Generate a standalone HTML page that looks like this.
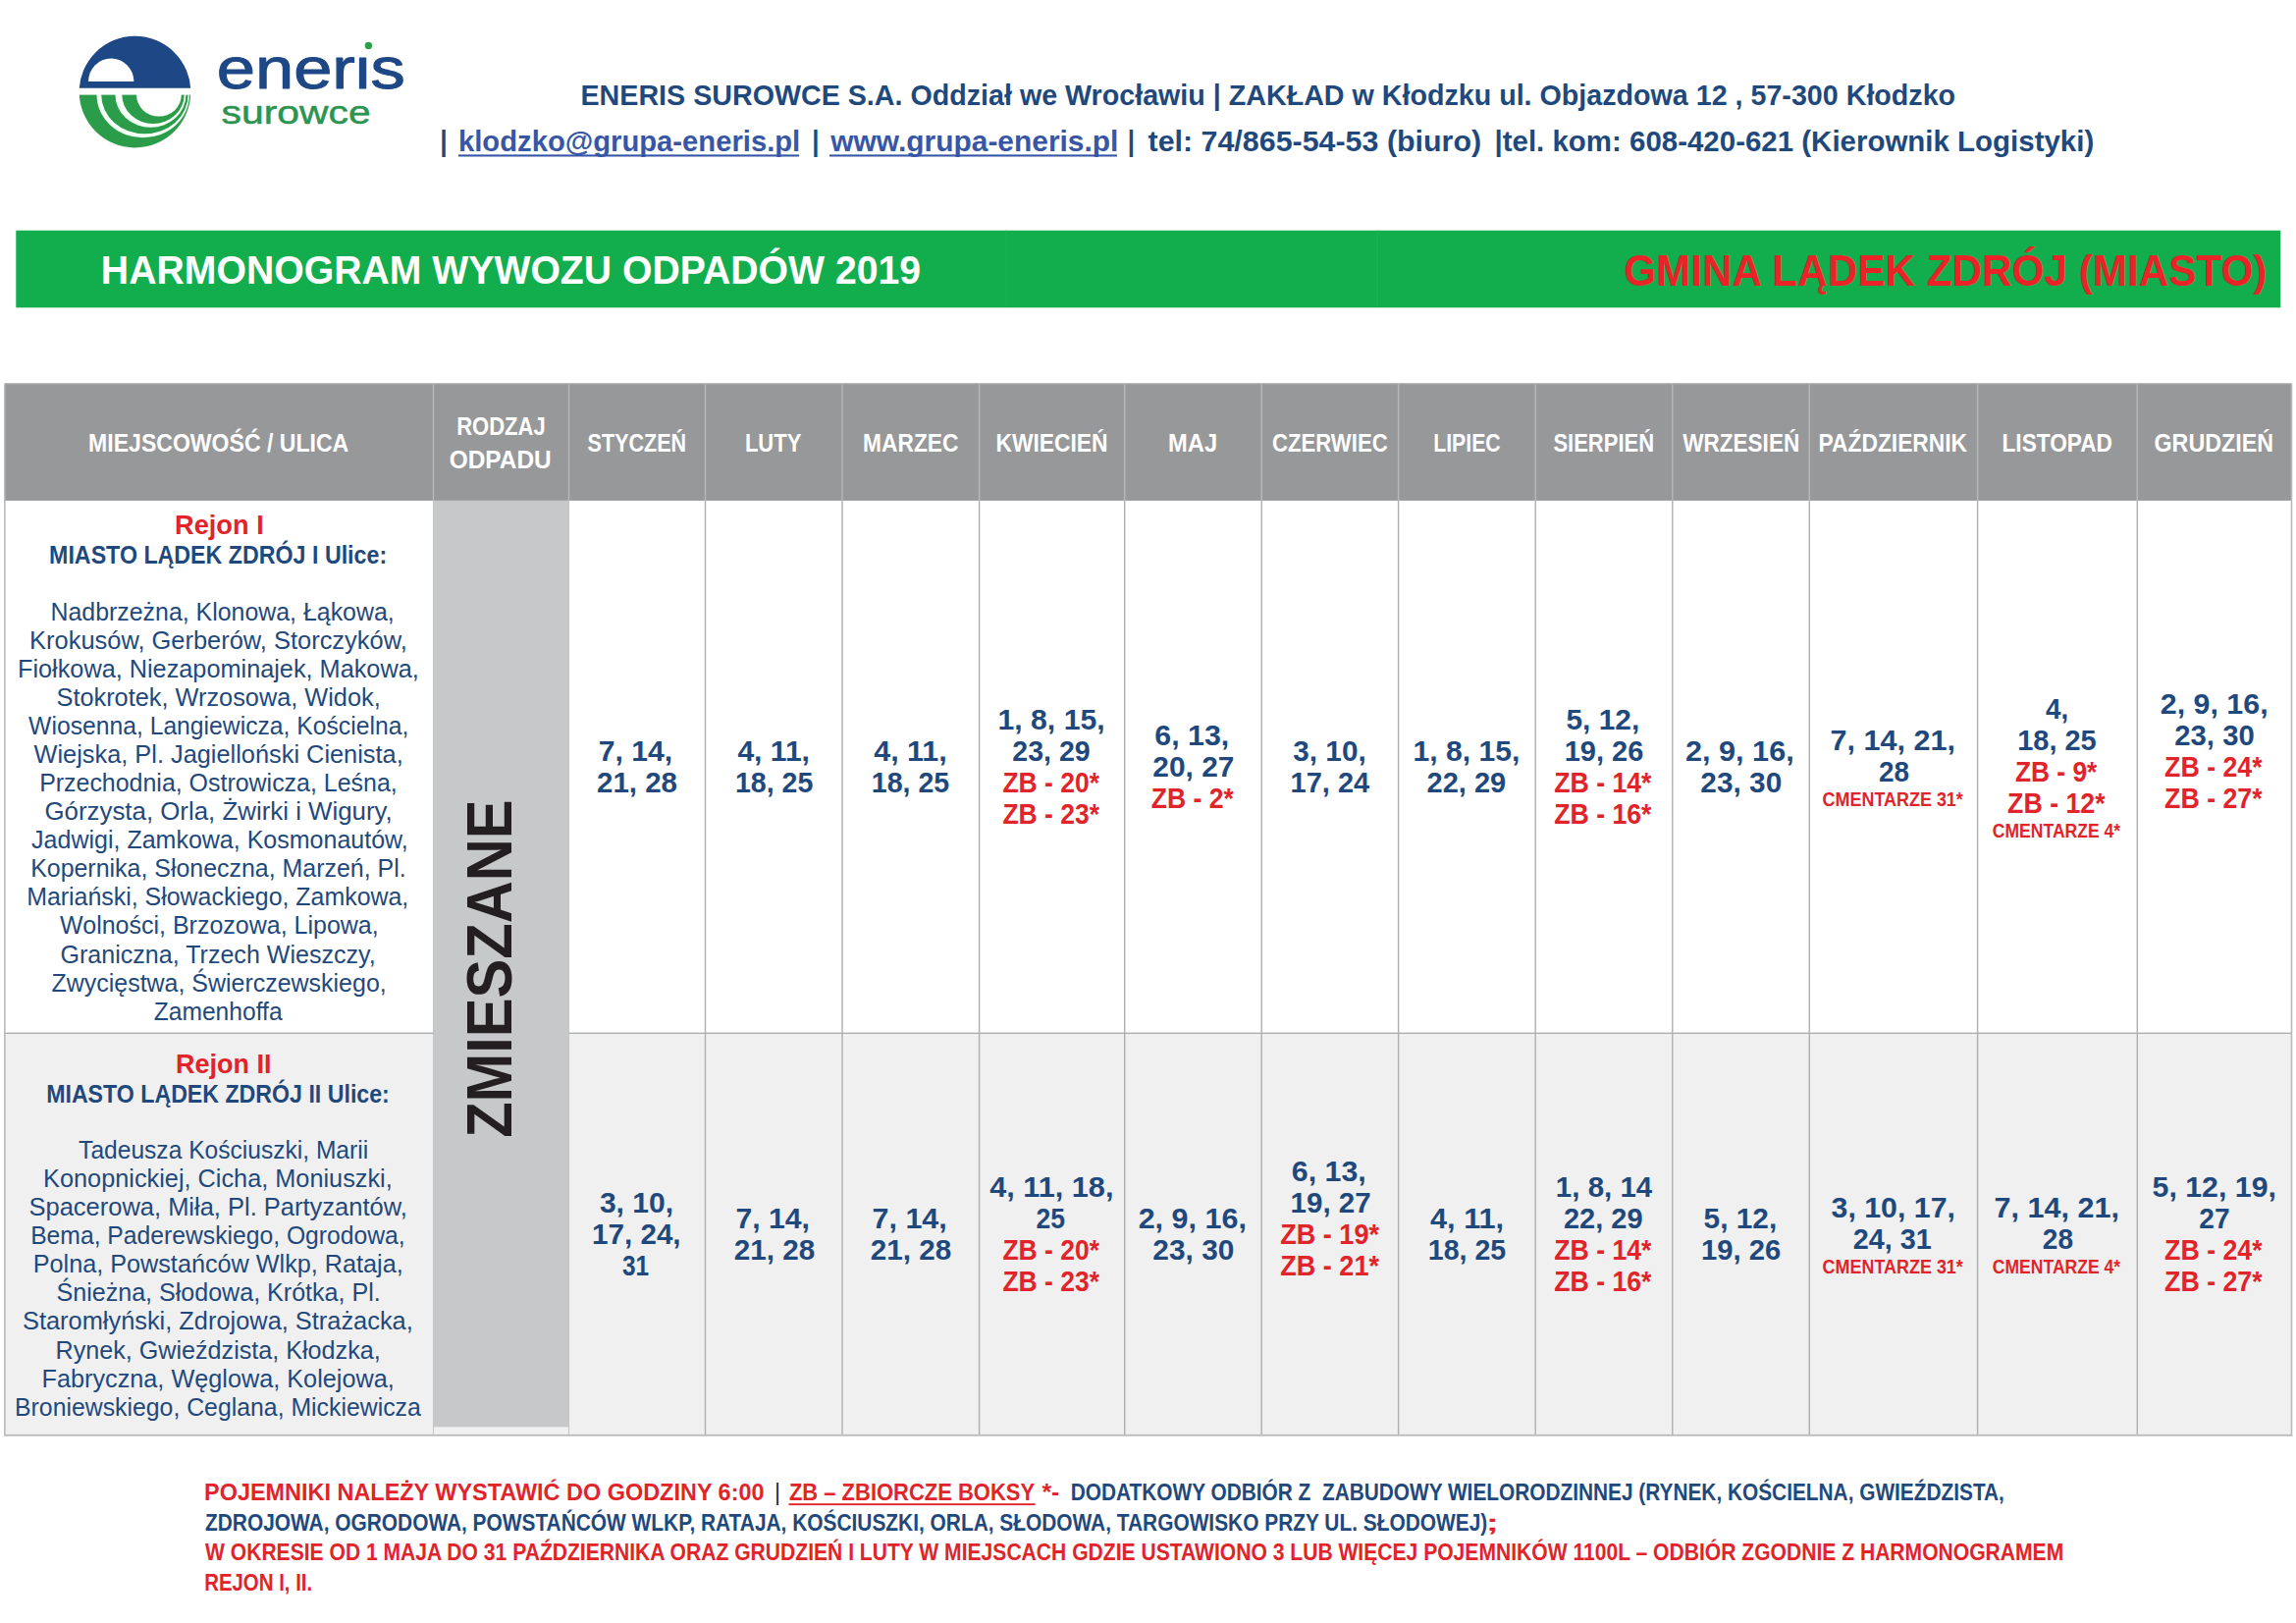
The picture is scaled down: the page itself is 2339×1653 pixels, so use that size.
<!DOCTYPE html>
<html lang="pl">
<head>
<meta charset="utf-8">
<title>Harmonogram wywozu odpadów 2019 – Gmina Lądek Zdrój (miasto)</title>
<style>
html,body{margin:0;padding:0;background:#fff;}
body{width:2339px;height:1653px;overflow:hidden;}
svg{display:block;font-family:"Liberation Sans",sans-serif;}
svg text{white-space:pre;}
</style>
</head>
<body>
<svg width="2339" height="1653" viewBox="0 0 2339 1653">
<rect x="16.3" y="234.7" width="2307" height="78.6" fill="#12ae4e"/>
<rect x="1024.6" y="234.7" width="1" height="78.4" fill="#1fb257"/>
<rect x="1402.8" y="234.7" width="1" height="78.4" fill="#1fb257"/>
<rect x="4.8" y="390.7" width="2329.7" height="119.2" fill="#97989a"/>
<rect x="4.8" y="1052.3" width="2329.7" height="409.5" fill="#f0f0f0"/>
<rect x="441.5" y="509.9" width="138" height="943.4" fill="#c7c8ca"/>
<rect x="440.8" y="391.2" width="1.4" height="118.7" fill="#b7b8ba"/>
<rect x="578.8" y="391.2" width="1.4" height="118.7" fill="#b7b8ba"/>
<rect x="717.8" y="391.2" width="1.4" height="118.7" fill="#b7b8ba"/>
<rect x="857.3" y="391.2" width="1.4" height="118.7" fill="#b7b8ba"/>
<rect x="996.9" y="391.2" width="1.4" height="118.7" fill="#b7b8ba"/>
<rect x="1145" y="391.2" width="1.4" height="118.7" fill="#b7b8ba"/>
<rect x="1284.5" y="391.2" width="1.4" height="118.7" fill="#b7b8ba"/>
<rect x="1423.9" y="391.2" width="1.4" height="118.7" fill="#b7b8ba"/>
<rect x="1563.5" y="391.2" width="1.4" height="118.7" fill="#b7b8ba"/>
<rect x="1703.1" y="391.2" width="1.4" height="118.7" fill="#b7b8ba"/>
<rect x="1842.6" y="391.2" width="1.4" height="118.7" fill="#b7b8ba"/>
<rect x="2013.9" y="391.2" width="1.4" height="118.7" fill="#b7b8ba"/>
<rect x="2176.6" y="391.2" width="1.4" height="118.7" fill="#b7b8ba"/>
<rect x="4.8" y="390.1" width="2329.7" height="1.2" fill="#b3b4b6"/>
<rect x="717.8" y="509.9" width="1.4" height="951.9" fill="#adaeb0"/>
<rect x="857.3" y="509.9" width="1.4" height="951.9" fill="#adaeb0"/>
<rect x="996.9" y="509.9" width="1.4" height="951.9" fill="#adaeb0"/>
<rect x="1145" y="509.9" width="1.4" height="951.9" fill="#adaeb0"/>
<rect x="1284.5" y="509.9" width="1.4" height="951.9" fill="#adaeb0"/>
<rect x="1423.9" y="509.9" width="1.4" height="951.9" fill="#adaeb0"/>
<rect x="1563.5" y="509.9" width="1.4" height="951.9" fill="#adaeb0"/>
<rect x="1703.1" y="509.9" width="1.4" height="951.9" fill="#adaeb0"/>
<rect x="1842.6" y="509.9" width="1.4" height="951.9" fill="#adaeb0"/>
<rect x="2013.9" y="509.9" width="1.4" height="951.9" fill="#adaeb0"/>
<rect x="2176.6" y="509.9" width="1.4" height="951.9" fill="#adaeb0"/>
<rect x="579" y="509.9" width="1" height="951.9" fill="#c3c4c6"/>
<rect x="441" y="509.9" width="1" height="951.9" fill="#c3c4c6"/>
<rect x="4.8" y="1051.6" width="436.7" height="1.4" fill="#adaeb0"/>
<rect x="579.5" y="1051.6" width="1755" height="1.4" fill="#adaeb0"/>
<rect x="4" y="390.7" width="1.6" height="1071.1" fill="#b9babb"/>
<rect x="2333.7" y="390.7" width="1.6" height="1072" fill="#b9babb"/>
<rect x="4" y="1460.9" width="2331.3" height="1.8" fill="#b9babb"/>
<defs><clipPath id="lgTop"><rect x="70" y="30" width="140" height="59.7"/></clipPath><clipPath id="lgCirc"><circle cx="137.5" cy="93.6" r="56.8"/></clipPath></defs>
<g clip-path="url(#lgCirc)"><rect x="70" y="30" width="140" height="130" fill="#2a9c4a"/>
<ellipse cx="161.9" cy="96.6" rx="22.9" ry="22" fill="#fff"/>
<path fill="#f4fff6" d="M117.4 90 L117.4 96.6 A36.05 33.2 0 0 0 189.5 96.6 L189.5 90 L187.7 90 L187.7 96.6 A31.7 29.3 0 0 1 124.3 96.6 L124.3 90 Z"/>
<path fill="#f4fff6" d="M98.5 90 L98.5 96.6 A47.2 43.6 0 0 0 192.9 96.6 L192.9 90 L191.6 90 L191.6 96.6 A44.2 39.7 0 0 1 103.2 96.6 L103.2 90 Z"/>
</g>
<rect x="70" y="30" width="140" height="66.6" fill="#fff"/>
<g clip-path="url(#lgTop)"><circle cx="137.5" cy="93.6" r="56.8" fill="#1e4785"/>
<path d="M90 83 A23.2 23.5 0 0 1 136.4 83 Z" fill="#fff"/></g>
<g>
<g id="company-info">
<text x="591.51" y="106.7" textLength="1400.63" lengthAdjust="spacingAndGlyphs" font-size="28.9" fill="#1f497d" font-weight="700">ENERIS SUROWCE S.A. Oddział we Wrocławiu | ZAKŁAD w Kłodzku ul. Objazdowa 12 , 57-300 Kłodzko</text>
<text x="448.35" y="153.8" textLength="7.48" lengthAdjust="spacingAndGlyphs" font-size="28.9" fill="#1f497d" font-weight="700">|</text>
<text x="466.98" y="153.8" textLength="348.27" lengthAdjust="spacingAndGlyphs" font-size="28.9" fill="#3757a6" font-weight="700">klodzko@grupa-eneris.pl</text>
<rect x="467" y="157.4" width="347" height="2.1" fill="#3757a6"/>
<text x="827.2" y="153.8" textLength="7.27" lengthAdjust="spacingAndGlyphs" font-size="28.9" fill="#1f497d" font-weight="700">|</text>
<text x="846.34" y="153.8" textLength="293.06" lengthAdjust="spacingAndGlyphs" font-size="28.9" fill="#3757a6" font-weight="700">www.grupa-eneris.pl</text>
<rect x="845" y="157.4" width="293" height="2.1" fill="#3757a6"/>
<text x="1148.8" y="153.8" textLength="7.27" lengthAdjust="spacingAndGlyphs" font-size="28.9" fill="#1f497d" font-weight="700">|</text>
<text x="1169.5" y="153.8" textLength="339.65" lengthAdjust="spacingAndGlyphs" font-size="28.9" fill="#1f497d" font-weight="700">tel: 74/865-54-53 (biuro)</text>
<text x="1522.46" y="153.8" textLength="610.77" lengthAdjust="spacingAndGlyphs" font-size="28.9" fill="#1f497d" font-weight="700">|tel. kom: 608-420-621 (Kierownik Logistyki)</text>
</g>
<g id="banner">
<text x="102.87" y="289" textLength="835.28" lengthAdjust="spacingAndGlyphs" font-size="40.6" fill="#ffffff" font-weight="700">HARMONOGRAM WYWOZU ODPADÓW 2019</text>
<text x="1654.24" y="290.6" textLength="655.21" lengthAdjust="spacingAndGlyphs" font-size="43.9" fill="#ea2328" font-weight="700">GMINA LĄDEK ZDRÓJ (MIASTO)</text>
</g>
<g id="table-head">
<text x="90.09" y="460" textLength="265.16" lengthAdjust="spacingAndGlyphs" font-size="25.3" fill="#ffffff" font-weight="700">MIEJSCOWOŚĆ / ULICA</text>
<text x="465.13" y="442.6" textLength="90.6" lengthAdjust="spacingAndGlyphs" font-size="25.3" fill="#ffffff" font-weight="700">RODZAJ</text>
<text x="457.63" y="476.7" textLength="104.09" lengthAdjust="spacingAndGlyphs" font-size="25.3" fill="#ffffff" font-weight="700">ODPADU</text>
<text x="598.6" y="460" textLength="100.58" lengthAdjust="spacingAndGlyphs" font-size="25.3" fill="#ffffff" font-weight="700">STYCZEŃ</text>
<text x="758.93" y="460" textLength="57.46" lengthAdjust="spacingAndGlyphs" font-size="25.3" fill="#ffffff" font-weight="700">LUTY</text>
<text x="879.1" y="460" textLength="97.34" lengthAdjust="spacingAndGlyphs" font-size="25.3" fill="#ffffff" font-weight="700">MARZEC</text>
<text x="1014.4" y="460" textLength="114.15" lengthAdjust="spacingAndGlyphs" font-size="25.3" fill="#ffffff" font-weight="700">KWIECIEŃ</text>
<text x="1189.96" y="460" textLength="50.14" lengthAdjust="spacingAndGlyphs" font-size="25.3" fill="#ffffff" font-weight="700">MAJ</text>
<text x="1296.03" y="460" textLength="117.61" lengthAdjust="spacingAndGlyphs" font-size="25.3" fill="#ffffff" font-weight="700">CZERWIEC</text>
<text x="1460.26" y="460" textLength="68.36" lengthAdjust="spacingAndGlyphs" font-size="25.3" fill="#ffffff" font-weight="700">LIPIEC</text>
<text x="1582.4" y="460" textLength="102.7" lengthAdjust="spacingAndGlyphs" font-size="25.3" fill="#ffffff" font-weight="700">SIERPIEŃ</text>
<text x="1714.2" y="460" textLength="119.03" lengthAdjust="spacingAndGlyphs" font-size="25.3" fill="#ffffff" font-weight="700">WRZESIEŃ</text>
<text x="1852.6" y="460" textLength="151.44" lengthAdjust="spacingAndGlyphs" font-size="25.3" fill="#ffffff" font-weight="700">PAŹDZIERNIK</text>
<text x="2039.5" y="460" textLength="112.44" lengthAdjust="spacingAndGlyphs" font-size="25.3" fill="#ffffff" font-weight="700">LISTOPAD</text>
<text x="2194.48" y="460" textLength="121.69" lengthAdjust="spacingAndGlyphs" font-size="25.3" fill="#ffffff" font-weight="700">GRUDZIEŃ</text>
</g>
<g id="streets">
<text x="178.03" y="543.7" textLength="90.72" lengthAdjust="spacingAndGlyphs" font-size="28.1" fill="#e0242a" font-weight="700">Rejon I</text>
<text x="50.07" y="573.5" textLength="344.07" lengthAdjust="spacingAndGlyphs" font-size="24.9" fill="#1f497d" font-weight="700">MIASTO LĄDEK ZDRÓJ I Ulice:</text>
<text x="51.53" y="631.7" textLength="350.16" lengthAdjust="spacingAndGlyphs" font-size="25.3" fill="#1f497d">Nadbrzeżna, Klonowa, Łąkowa,</text>
<text x="30.09" y="660.77" textLength="384.65" lengthAdjust="spacingAndGlyphs" font-size="25.3" fill="#1f497d">Krokusów, Gerberów, Storczyków,</text>
<text x="18" y="689.84" textLength="408.72" lengthAdjust="spacingAndGlyphs" font-size="25.3" fill="#1f497d">Fiołkowa, Niezapominajek, Makowa,</text>
<text x="57.5" y="718.91" textLength="330.23" lengthAdjust="spacingAndGlyphs" font-size="25.3" fill="#1f497d">Stokrotek, Wrzosowa, Widok,</text>
<text x="29.1" y="747.98" textLength="387.18" lengthAdjust="spacingAndGlyphs" font-size="25.3" fill="#1f497d">Wiosenna, Langiewicza, Kościelna,</text>
<text x="34.5" y="777.05" textLength="376.23" lengthAdjust="spacingAndGlyphs" font-size="25.3" fill="#1f497d">Wiejska, Pl. Jagielloński Cienista,</text>
<text x="40.13" y="806.12" textLength="364.57" lengthAdjust="spacingAndGlyphs" font-size="25.3" fill="#1f497d">Przechodnia, Ostrowicza, Leśna,</text>
<text x="45.48" y="835.19" textLength="354.29" lengthAdjust="spacingAndGlyphs" font-size="25.3" fill="#1f497d">Górzysta, Orla, Żwirki i Wigury,</text>
<text x="32.1" y="864.26" textLength="383.6" lengthAdjust="spacingAndGlyphs" font-size="25.3" fill="#1f497d">Jadwigi, Zamkowa, Kosmonautów,</text>
<text x="31.13" y="893.33" textLength="382.57" lengthAdjust="spacingAndGlyphs" font-size="25.3" fill="#1f497d">Kopernika, Słoneczna, Marzeń, Pl.</text>
<text x="27.13" y="922.4" textLength="389.17" lengthAdjust="spacingAndGlyphs" font-size="25.3" fill="#1f497d">Mariański, Słowackiego, Zamkowa,</text>
<text x="61.1" y="951.47" textLength="324.6" lengthAdjust="spacingAndGlyphs" font-size="25.3" fill="#1f497d">Wolności, Brzozowa, Lipowa,</text>
<text x="61.51" y="980.54" textLength="321.2" lengthAdjust="spacingAndGlyphs" font-size="25.3" fill="#1f497d">Graniczna, Trzech Wieszczy,</text>
<text x="52.5" y="1009.61" textLength="341.2" lengthAdjust="spacingAndGlyphs" font-size="25.3" fill="#1f497d">Zwycięstwa, Świerczewskiego,</text>
<text x="156.7" y="1038.68" textLength="130.89" lengthAdjust="spacingAndGlyphs" font-size="25.3" fill="#1f497d">Zamenhoffa</text>
<text x="178.94" y="1092.7" textLength="97.6" lengthAdjust="spacingAndGlyphs" font-size="28.1" fill="#e0242a" font-weight="700">Rejon II</text>
<text x="47.17" y="1122.5" textLength="349.66" lengthAdjust="spacingAndGlyphs" font-size="24.9" fill="#1f497d" font-weight="700">MIASTO LĄDEK ZDRÓJ II Ulice:</text>
<text x="80.1" y="1180.1" textLength="295.07" lengthAdjust="spacingAndGlyphs" font-size="25.3" fill="#1f497d">Tadeusza Kościuszki, Marii</text>
<text x="44.1" y="1209.16" textLength="355.63" lengthAdjust="spacingAndGlyphs" font-size="25.3" fill="#1f497d">Konopnickiej, Cicha, Moniuszki,</text>
<text x="29.49" y="1238.22" textLength="385.25" lengthAdjust="spacingAndGlyphs" font-size="25.3" fill="#1f497d">Spacerowa, Miła, Pl. Partyzantów,</text>
<text x="31.15" y="1267.28" textLength="381.53" lengthAdjust="spacingAndGlyphs" font-size="25.3" fill="#1f497d">Bema, Paderewskiego, Ogrodowa,</text>
<text x="33.71" y="1296.34" textLength="377.02" lengthAdjust="spacingAndGlyphs" font-size="25.3" fill="#1f497d">Polna, Powstańców Wlkp, Rataja,</text>
<text x="57.51" y="1325.4" textLength="330.2" lengthAdjust="spacingAndGlyphs" font-size="25.3" fill="#1f497d">Śnieżna, Słodowa, Krótka, Pl.</text>
<text x="23" y="1354.46" textLength="397.74" lengthAdjust="spacingAndGlyphs" font-size="25.3" fill="#1f497d">Staromłyński, Zdrojowa, Strażacka,</text>
<text x="56.51" y="1383.52" textLength="331.2" lengthAdjust="spacingAndGlyphs" font-size="25.3" fill="#1f497d">Rynek, Gwieździsta, Kłodzka,</text>
<text x="42.5" y="1412.58" textLength="359.22" lengthAdjust="spacingAndGlyphs" font-size="25.3" fill="#1f497d">Fabryczna, Węglowa, Kolejowa,</text>
<text x="15.04" y="1441.64" textLength="413.75" lengthAdjust="spacingAndGlyphs" font-size="25.3" fill="#1f497d">Broniewskiego, Ceglana, Mickiewicza</text>
</g>
<g id="waste-type">
<text transform="translate(521 1157.9) rotate(-90)" x="-0.91" y="0" textLength="344.3" lengthAdjust="spacingAndGlyphs" font-size="65.6" fill="#231f20" font-weight="700">ZMIESZANE</text>
</g>
<g id="dates">
<text x="609.76" y="774.9" textLength="75.34" lengthAdjust="spacingAndGlyphs" font-size="29" fill="#1f497d" font-weight="700">7, 14,</text>
<text x="608.08" y="806.9" textLength="81.95" lengthAdjust="spacingAndGlyphs" font-size="29" fill="#1f497d" font-weight="700">21, 28</text>
<text x="751.4" y="774.9" textLength="73.6" lengthAdjust="spacingAndGlyphs" font-size="29" fill="#1f497d" font-weight="700">4, 11,</text>
<text x="748.92" y="806.9" textLength="79.41" lengthAdjust="spacingAndGlyphs" font-size="29" fill="#1f497d" font-weight="700">18, 25</text>
<text x="890.3" y="774.9" textLength="74.41" lengthAdjust="spacingAndGlyphs" font-size="29" fill="#1f497d" font-weight="700">4, 11,</text>
<text x="887.82" y="806.9" textLength="79.41" lengthAdjust="spacingAndGlyphs" font-size="29" fill="#1f497d" font-weight="700">18, 25</text>
<text x="1016.56" y="742.9" textLength="109.04" lengthAdjust="spacingAndGlyphs" font-size="29" fill="#1f497d" font-weight="700">1, 8, 15,</text>
<text x="1031.32" y="774.9" textLength="79.41" lengthAdjust="spacingAndGlyphs" font-size="29" fill="#1f497d" font-weight="700">23, 29</text>
<text x="1021.4" y="806.9" textLength="98.65" lengthAdjust="spacingAndGlyphs" font-size="29" fill="#e0242a" font-weight="700">ZB - 20*</text>
<text x="1021.4" y="838.9" textLength="98.65" lengthAdjust="spacingAndGlyphs" font-size="29" fill="#e0242a" font-weight="700">ZB - 23*</text>
<text x="1176.35" y="758.9" textLength="75.95" lengthAdjust="spacingAndGlyphs" font-size="29" fill="#1f497d" font-weight="700">6, 13,</text>
<text x="1174.37" y="790.9" textLength="82.99" lengthAdjust="spacingAndGlyphs" font-size="29" fill="#1f497d" font-weight="700">20, 27</text>
<text x="1172.8" y="822.9" textLength="84.05" lengthAdjust="spacingAndGlyphs" font-size="29" fill="#e0242a" font-weight="700">ZB - 2*</text>
<text x="1317.3" y="774.9" textLength="74.38" lengthAdjust="spacingAndGlyphs" font-size="29" fill="#1f497d" font-weight="700">3, 10,</text>
<text x="1314.6" y="806.9" textLength="80.63" lengthAdjust="spacingAndGlyphs" font-size="29" fill="#1f497d" font-weight="700">17, 24</text>
<text x="1439.56" y="774.9" textLength="108.73" lengthAdjust="spacingAndGlyphs" font-size="29" fill="#1f497d" font-weight="700">1, 8, 15,</text>
<text x="1453.5" y="806.9" textLength="80.73" lengthAdjust="spacingAndGlyphs" font-size="29" fill="#1f497d" font-weight="700">22, 29</text>
<text x="1595.5" y="742.9" textLength="74.79" lengthAdjust="spacingAndGlyphs" font-size="29" fill="#1f497d" font-weight="700">5, 12,</text>
<text x="1593.7" y="774.9" textLength="80.73" lengthAdjust="spacingAndGlyphs" font-size="29" fill="#1f497d" font-weight="700">19, 26</text>
<text x="1583.3" y="806.9" textLength="99.14" lengthAdjust="spacingAndGlyphs" font-size="29" fill="#e0242a" font-weight="700">ZB - 14*</text>
<text x="1583.3" y="838.9" textLength="99.14" lengthAdjust="spacingAndGlyphs" font-size="29" fill="#e0242a" font-weight="700">ZB - 16*</text>
<text x="1717.04" y="774.9" textLength="110.67" lengthAdjust="spacingAndGlyphs" font-size="29" fill="#1f497d" font-weight="700">2, 9, 16,</text>
<text x="1732.37" y="806.9" textLength="82.89" lengthAdjust="spacingAndGlyphs" font-size="29" fill="#1f497d" font-weight="700">23, 30</text>
<text x="1864.55" y="763.7" textLength="127.37" lengthAdjust="spacingAndGlyphs" font-size="29" fill="#1f497d" font-weight="700">7, 14, 21,</text>
<text x="1913.94" y="795.7" textLength="31.09" lengthAdjust="spacingAndGlyphs" font-size="29" fill="#1f497d" font-weight="700">28</text>
<text x="1856.6" y="820.6" textLength="143.24" lengthAdjust="spacingAndGlyphs" font-size="19.3" fill="#e0242a" font-weight="700">CMENTARZE 31*</text>
<text x="2084.1" y="731.7" textLength="23.21" lengthAdjust="spacingAndGlyphs" font-size="29" fill="#1f497d" font-weight="700">4,</text>
<text x="2055.2" y="763.7" textLength="80.53" lengthAdjust="spacingAndGlyphs" font-size="29" fill="#1f497d" font-weight="700">18, 25</text>
<text x="2052.9" y="795.7" textLength="83.45" lengthAdjust="spacingAndGlyphs" font-size="29" fill="#e0242a" font-weight="700">ZB - 9*</text>
<text x="2045.1" y="827.7" textLength="99.54" lengthAdjust="spacingAndGlyphs" font-size="29" fill="#e0242a" font-weight="700">ZB - 12*</text>
<text x="2029.8" y="852.6" textLength="130.35" lengthAdjust="spacingAndGlyphs" font-size="19.3" fill="#e0242a" font-weight="700">CMENTARZE 4*</text>
<text x="2200.75" y="726.9" textLength="109.86" lengthAdjust="spacingAndGlyphs" font-size="29" fill="#1f497d" font-weight="700">2, 9, 16,</text>
<text x="2215.29" y="758.9" textLength="81.45" lengthAdjust="spacingAndGlyphs" font-size="29" fill="#1f497d" font-weight="700">23, 30</text>
<text x="2205.1" y="790.9" textLength="99.54" lengthAdjust="spacingAndGlyphs" font-size="29" fill="#e0242a" font-weight="700">ZB - 24*</text>
<text x="2205.1" y="822.9" textLength="99.54" lengthAdjust="spacingAndGlyphs" font-size="29" fill="#e0242a" font-weight="700">ZB - 27*</text>
<text x="610.9" y="1234.9" textLength="75.09" lengthAdjust="spacingAndGlyphs" font-size="29" fill="#1f497d" font-weight="700">3, 10,</text>
<text x="603.08" y="1266.9" textLength="90.5" lengthAdjust="spacingAndGlyphs" font-size="29" fill="#1f497d" font-weight="700">17, 24,</text>
<text x="633.9" y="1298.9" textLength="27.11" lengthAdjust="spacingAndGlyphs" font-size="29" fill="#1f497d" font-weight="700">31</text>
<text x="749.56" y="1250.9" textLength="75.44" lengthAdjust="spacingAndGlyphs" font-size="29" fill="#1f497d" font-weight="700">7, 14,</text>
<text x="747.88" y="1282.9" textLength="82.45" lengthAdjust="spacingAndGlyphs" font-size="29" fill="#1f497d" font-weight="700">21, 28</text>
<text x="888.55" y="1250.9" textLength="76.16" lengthAdjust="spacingAndGlyphs" font-size="29" fill="#1f497d" font-weight="700">7, 14,</text>
<text x="886.78" y="1282.9" textLength="82.45" lengthAdjust="spacingAndGlyphs" font-size="29" fill="#1f497d" font-weight="700">21, 28</text>
<text x="1008.3" y="1218.9" textLength="126.12" lengthAdjust="spacingAndGlyphs" font-size="29" fill="#1f497d" font-weight="700">4, 11, 18,</text>
<text x="1055.38" y="1250.9" textLength="29.53" lengthAdjust="spacingAndGlyphs" font-size="29" fill="#1f497d" font-weight="700">25</text>
<text x="1021.4" y="1282.9" textLength="98.65" lengthAdjust="spacingAndGlyphs" font-size="29" fill="#e0242a" font-weight="700">ZB - 20*</text>
<text x="1021.4" y="1314.9" textLength="98.65" lengthAdjust="spacingAndGlyphs" font-size="29" fill="#e0242a" font-weight="700">ZB - 23*</text>
<text x="1159.65" y="1250.9" textLength="110.26" lengthAdjust="spacingAndGlyphs" font-size="29" fill="#1f497d" font-weight="700">2, 9, 16,</text>
<text x="1174.37" y="1282.9" textLength="82.99" lengthAdjust="spacingAndGlyphs" font-size="29" fill="#1f497d" font-weight="700">23, 30</text>
<text x="1315.75" y="1202.9" textLength="75.95" lengthAdjust="spacingAndGlyphs" font-size="29" fill="#1f497d" font-weight="700">6, 13,</text>
<text x="1314.58" y="1234.9" textLength="82.17" lengthAdjust="spacingAndGlyphs" font-size="29" fill="#1f497d" font-weight="700">19, 27</text>
<text x="1304.2" y="1266.9" textLength="100.83" lengthAdjust="spacingAndGlyphs" font-size="29" fill="#e0242a" font-weight="700">ZB - 19*</text>
<text x="1304.2" y="1298.9" textLength="100.83" lengthAdjust="spacingAndGlyphs" font-size="29" fill="#e0242a" font-weight="700">ZB - 21*</text>
<text x="1457" y="1250.9" textLength="75.12" lengthAdjust="spacingAndGlyphs" font-size="29" fill="#1f497d" font-weight="700">4, 11,</text>
<text x="1454.82" y="1282.9" textLength="79.41" lengthAdjust="spacingAndGlyphs" font-size="29" fill="#1f497d" font-weight="700">18, 25</text>
<text x="1584.88" y="1218.9" textLength="98.35" lengthAdjust="spacingAndGlyphs" font-size="29" fill="#1f497d" font-weight="700">1, 8, 14</text>
<text x="1592.9" y="1250.9" textLength="80.73" lengthAdjust="spacingAndGlyphs" font-size="29" fill="#1f497d" font-weight="700">22, 29</text>
<text x="1583.3" y="1282.9" textLength="99.14" lengthAdjust="spacingAndGlyphs" font-size="29" fill="#e0242a" font-weight="700">ZB - 14*</text>
<text x="1583.3" y="1314.9" textLength="99.14" lengthAdjust="spacingAndGlyphs" font-size="29" fill="#e0242a" font-weight="700">ZB - 16*</text>
<text x="1735.6" y="1250.9" textLength="74.59" lengthAdjust="spacingAndGlyphs" font-size="29" fill="#1f497d" font-weight="700">5, 12,</text>
<text x="1732.99" y="1282.9" textLength="81.24" lengthAdjust="spacingAndGlyphs" font-size="29" fill="#1f497d" font-weight="700">19, 26</text>
<text x="1865.6" y="1239.7" textLength="126.3" lengthAdjust="spacingAndGlyphs" font-size="29" fill="#1f497d" font-weight="700">3, 10, 17,</text>
<text x="1887.71" y="1271.7" textLength="80.12" lengthAdjust="spacingAndGlyphs" font-size="29" fill="#1f497d" font-weight="700">24, 31</text>
<text x="1856.6" y="1296.6" textLength="143.24" lengthAdjust="spacingAndGlyphs" font-size="19.3" fill="#e0242a" font-weight="700">CMENTARZE 31*</text>
<text x="2031.55" y="1239.7" textLength="127.37" lengthAdjust="spacingAndGlyphs" font-size="29" fill="#1f497d" font-weight="700">7, 14, 21,</text>
<text x="2080.83" y="1271.7" textLength="31.19" lengthAdjust="spacingAndGlyphs" font-size="29" fill="#1f497d" font-weight="700">28</text>
<text x="2029.8" y="1296.6" textLength="130.35" lengthAdjust="spacingAndGlyphs" font-size="19.3" fill="#e0242a" font-weight="700">CMENTARZE 4*</text>
<text x="2192.6" y="1218.9" textLength="126.3" lengthAdjust="spacingAndGlyphs" font-size="29" fill="#1f497d" font-weight="700">5, 12, 19,</text>
<text x="2240.33" y="1250.9" textLength="31.26" lengthAdjust="spacingAndGlyphs" font-size="29" fill="#1f497d" font-weight="700">27</text>
<text x="2205.1" y="1282.9" textLength="99.54" lengthAdjust="spacingAndGlyphs" font-size="29" fill="#e0242a" font-weight="700">ZB - 24*</text>
<text x="2205.1" y="1314.9" textLength="99.54" lengthAdjust="spacingAndGlyphs" font-size="29" fill="#e0242a" font-weight="700">ZB - 27*</text>
</g>
<g id="footer-notes">
<text x="208.03" y="1527.5" textLength="570.51" lengthAdjust="spacingAndGlyphs" font-size="24.2" fill="#e0242a" font-weight="700">POJEMNIKI NALEŻY WYSTAWIĆ DO GODZINY 6:00</text>
<text x="790.1" y="1527.5" textLength="4.06" lengthAdjust="spacingAndGlyphs" font-size="24.2" fill="#262626" font-weight="700">|</text>
<text x="803.9" y="1527.5" textLength="250.22" lengthAdjust="spacingAndGlyphs" font-size="24.2" fill="#e0242a" font-weight="700">ZB – ZBIORCZE BOKSY</text>
<rect x="803.5" y="1531.2" width="251" height="1.9" fill="#e0242a"/>
<text x="1061.4" y="1527.5" textLength="17.96" lengthAdjust="spacingAndGlyphs" font-size="24.2" fill="#e0242a" font-weight="700">*-</text>
<text x="1090.84" y="1527.5" textLength="951.08" lengthAdjust="spacingAndGlyphs" font-size="24.2" fill="#1f497d" font-weight="700" xml:space="preserve" style="white-space:pre">DODATKOWY ODBIÓR Z  ZABUDOWY WIELORODZINNEJ (RYNEK, KOŚCIELNA, GWIEŹDZISTA,</text>
<text x="209" y="1558.5" textLength="1306.21" lengthAdjust="spacingAndGlyphs" font-size="24.2" fill="#1f497d" font-weight="700">ZDROJOWA, OGRODOWA, POWSTAŃCÓW WLKP, RATAJA, KOŚCIUSZKI, ORLA, SŁODOWA, TARGOWISKO PRZY UL. SŁODOWEJ)</text>
<text x="1513.75" y="1558.5" textLength="13.09" lengthAdjust="spacingAndGlyphs" font-size="24.2" fill="#e0242a" font-weight="700">;</text>
<text x="209" y="1589.4" textLength="1893.2" lengthAdjust="spacingAndGlyphs" font-size="24.2" fill="#e0242a" font-weight="700">W OKRESIE OD 1 MAJA DO 31 PAŹDZIERNIKA ORAZ GRUDZIEŃ I LUTY W MIEJSCACH GDZIE USTAWIONO 3 LUB WIĘCEJ POJEMNIKÓW 1100L – ODBIÓR ZGODNIE Z HARMONOGRAMEM</text>
<text x="208.16" y="1620" textLength="110.05" lengthAdjust="spacingAndGlyphs" font-size="24.2" fill="#e0242a" font-weight="700">REJON I, II.</text>
</g>
<g id="logo-text">
<text x="220.71" y="89.5" textLength="192.08" lengthAdjust="spacingAndGlyphs" font-size="59" fill="#1e4785" stroke="#1e4785" stroke-width="1" stroke-linejoin="round">eneris</text>
<text x="225.6" y="126.4" textLength="152.17" lengthAdjust="spacingAndGlyphs" font-size="33.5" fill="#2b9450" stroke="#2b9450" stroke-width="0.5" stroke-linejoin="round">surowce</text>
</g>
</g>
<rect x="362" y="40" width="16" height="15.5" fill="#fff"/><circle cx="375.4" cy="46.5" r="3.7" fill="#2f9e4b"/>
</svg>
</body>
</html>
